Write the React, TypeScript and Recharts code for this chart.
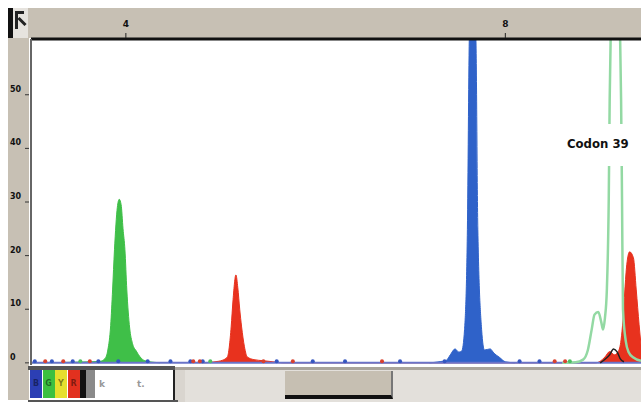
import React from 'react';
import { ComposedChart, Area, Line, Scatter, XAxis, YAxis, ReferenceLine } from 'recharts';

// trace points: [scan, signal]
type Pt = [number, number];

const GREEN: Pt[] = [
  [300, 0], [362, 0.2], [373, 0.3], [378, 0.8], [381, 2.4], [384, 7], [386, 13.6], [388, 21.1],
  [391, 29], [393, 30.5], [395, 29.5], [397, 25], [399, 21.1], [401, 13.6], [404, 6.5],
  [407, 3.6], [411, 2.2], [415, 1.1], [420, 0.4], [430, 0.1], [436, 0],
];

const RED: Pt[] = [
  [480, 0], [494, 0.2], [502, 0.5], [507, 1.1], [511, 6.7], [513, 11.8], [516, 16.4], [518, 14],
  [520, 10], [522, 6.7], [525, 3], [528, 1.1], [535, 0.6], [545, 0.4], [555, 0.2], [565, 0],
  [895, 0], [900, 0.3], [905, 1.1], [910, 2.1], [915, 1.5], [919, 2.1], [922, 4.3], [924, 8.0],
  [926, 13.6], [928, 18.3], [931, 20.7], [935, 19.6], [938, 13.6], [941, 7.1], [943, 3.4],
];

const BLUE: Pt[] = [
  [720, 0], [730, 0.2], [738, 0.5], [742, 1.5], [747, 2.6], [751, 2.0], [754, 2.2], [757, 6.2],
  [760, 24.9], [762, 60.4], [765, 75], [769, 60.4], [771, 24.9], [775, 6.2], [778, 2.4],
  [784, 2.6], [788, 1.8], [794, 1.0], [800, 0.2], [810, 0],
];

// light green trace, drawn as an outline only
const GREEN_OUTLINE: Pt[] = [
  [860, 0], [874, 0.1], [882, 0.6], [887, 2.4], [891, 6.2], [894, 9.0], [898, 9.5], [901, 7.7],
  [903, 6.2], [905, 8.4], [907, 13.6], [909, 30.5], [910, 49.2], [911, 60.4], [916, 82],
  [921, 60.4], [922, 49.2], [923, 30.5], [924, 10], [927, 4], [930, 2], [935, 1], [943, 0.4],
];

const BLACK: Pt[] = [[900, 0], [906, 0.8], [910, 1.5], [914, 2.6], [918, 2.0], [921, 0.8], [925, 0.2]];

// baseline noise blips
const BLUE_DOTS = [304, 322, 344, 371, 392, 423, 447, 468, 481, 559, 597, 631, 689, 736, 815, 836];
const RED_DOTS = [315, 334, 362, 471, 478, 545, 576, 670, 852, 863];
const GREEN_DOTS = [352, 489, 868];

const X_TICKS = [400, 800];
const X_TICK_LABELS = ['4', '8'];
const Y_TICKS = [0, 10, 20, 30, 40, 50];

const GRAY = '#c7c0b4';
const C_GREEN = '#3fbf48';
const C_RED = '#e8321e';
const C_BLUE = '#2f62c9';
const C_LIGHT = '#93d9a3';

const SERIES: Record<string, Pt[]> = {
  green: GREEN, red: RED, blue: BLUE, outline: GREEN_OUTLINE, black: BLACK,
};

function buildRows() {
  const xs = Array.from(new Set(Object.values(SERIES).flatMap((s) => s.map((p) => p[0])))).sort((a, b) => a - b);
  return xs.map((x) => {
    const row: Record<string, number> = { x };
    for (const [k, s] of Object.entries(SERIES)) {
      const p = s.find((q) => q[0] === x);
      if (p) row[k] = p[1];
    }
    return row;
  });
}

const rows = buildRows();
const dots = (xs: number[]) => xs.map((x) => ({ x, y: 0.3 }));

function TopTick(props: any) {
  const { x, payload, index } = props;
  return (
    <g>
      <text x={x} y={27} textAnchor="middle" fontSize={9} fontWeight="bold" fontFamily="DejaVu Sans" fill="#111">
        {X_TICK_LABELS[index] ?? payload.value}
      </text>
      <line x1={x} x2={x} y1={33} y2={38} stroke="#222" />
    </g>
  );
}

function LeftTick(props: any) {
  const { y, payload } = props;
  return (
    <g>
      <text x={10} y={y - 3} fontSize={8} fontWeight="bold" fontFamily="DejaVu Sans" fill="#111">
        {payload.value}
      </text>
      <line x1={25} x2={29} y1={y} y2={y} stroke="#333" />
    </g>
  );
}

const dotShape = (color: string) => (p: any) => <circle cx={p.cx} cy={p.cy} r={2} fill={color} />;

export default function App() {
  return (
    <div style={{ position: 'absolute', left: 0, top: 0, width: 641, height: 404, background: '#fff', overflow: 'hidden' }}>
      {/* window chrome */}
      <div style={{ position: 'absolute', left: 8, top: 8, width: 633, height: 30, background: GRAY }} />
      <div style={{ position: 'absolute', left: 8, top: 38, width: 21, height: 362, background: GRAY }} />
      <div style={{ position: 'absolute', left: 8, top: 8, width: 20, height: 30, background: '#e6e3de', borderLeft: '5px solid #111', boxSizing: 'border-box' }}>
        <div style={{ position: 'absolute', left: 2, top: 3, width: 9, height: 18, borderLeft: '3px solid #222', borderTop: '3px solid #222', boxSizing: 'border-box' }} />
        <div style={{ position: 'absolute', left: 4, top: 12, width: 10, height: 3, background: '#222', transform: 'rotate(45deg)' }} />
      </div>
      {/* bottom bar */}
      <div style={{ position: 'absolute', left: 28, top: 366, width: 147, height: 4, background: '#555' }} />
      <div style={{ position: 'absolute', left: 175, top: 367, width: 466, height: 3, background: '#a9a49c' }} />
      {[['B', '#2c3fb4'], ['G', '#3cc040'], ['Y', '#e6df2e'], ['R', '#e2311f']].map(([t, c], i) => (
        <div key={t} style={{ position: 'absolute', left: 30 + i * 12.5, top: 370, width: 12, height: 28, background: c, color: 'rgba(0,0,0,0.45)', fontSize: 8, fontFamily: 'DejaVu Sans', fontWeight: 'bold', textAlign: 'center', lineHeight: '28px' }}>{t}</div>
      ))}
      <div style={{ position: 'absolute', left: 80, top: 370, width: 6, height: 28, background: '#111' }} />
      <div style={{ position: 'absolute', left: 86, top: 370, width: 9, height: 28, background: '#8a8a8a' }} />
      <div style={{ position: 'absolute', left: 95, top: 370, width: 78, height: 32, background: '#fff', color: '#999', fontSize: 9, fontFamily: 'DejaVu Sans', fontWeight: 'bold' }}>
        <span style={{ position: 'absolute', left: 4, top: 9 }}>k</span>
        <span style={{ position: 'absolute', left: 42, top: 9 }}>t.</span>
      </div>
      <div style={{ position: 'absolute', left: 173, top: 370, width: 12, height: 32, background: '#d9d5cf', borderLeft: '2px solid #222', boxSizing: 'border-box' }} />
      <div style={{ position: 'absolute', left: 185, top: 370, width: 456, height: 32, background: '#e3e0db' }} />
      <div style={{ position: 'absolute', left: 285, top: 371, width: 108, height: 28, background: '#c6bfb2', borderBottom: '4px solid #111', borderRight: '2px solid #777', boxSizing: 'border-box' }} />
      <div style={{ position: 'absolute', left: 28, top: 400, width: 150, height: 2, background: '#555' }} />

      <div style={{ position: 'absolute', left: 0, top: 0 }}>
        <ComposedChart width={641} height={404} data={rows} margin={{ top: 9, right: 0, bottom: 39, left: 8 }}>
          <XAxis
            dataKey="x"
            type="number"
            orientation="top"
            height={30}
            domain={[300, 943]}
            ticks={X_TICKS}
            allowDataOverflow
            tick={<TopTick />}
            tickLine={false}
            axisLine={{ stroke: '#111', strokeWidth: 3 }}
          />
          <YAxis
            type="number"
            width={23}
            domain={[-0.4, 60.4]}
            ticks={Y_TICKS}
            allowDataOverflow
            tick={<LeftTick />}
            tickLine={false}
            axisLine={{ stroke: '#666', strokeWidth: 2 }}
          />
          <ReferenceLine y={0} stroke="#6a74c9" strokeWidth={2} />
          <Area dataKey="green" type="monotone" baseValue={0} stroke={C_GREEN} fill={C_GREEN} fillOpacity={1} connectNulls isAnimationActive={false} dot={false} activeDot={false} />
          <Area dataKey="red" type="monotone" baseValue={0} stroke={C_RED} fill={C_RED} fillOpacity={1} connectNulls isAnimationActive={false} dot={false} activeDot={false} />
          <Area dataKey="blue" type="monotone" baseValue={0} stroke={C_BLUE} fill={C_BLUE} fillOpacity={1} connectNulls isAnimationActive={false} dot={false} activeDot={false} />
          <Line dataKey="outline" type="monotone" stroke={C_LIGHT} strokeWidth={2.5} connectNulls isAnimationActive={false} dot={false} activeDot={false} />
          <Line dataKey="black" type="monotone" stroke="#222" strokeWidth={1.5} connectNulls isAnimationActive={false} dot={false} activeDot={false} />
          <Scatter data={dots(BLUE_DOTS)} dataKey="y" shape={dotShape('#3556c0')} isAnimationActive={false} />
          <Scatter data={dots(RED_DOTS)} dataKey="y" shape={dotShape('#d9402e')} isAnimationActive={false} />
          <Scatter data={dots(GREEN_DOTS)} dataKey="y" shape={dotShape('#4cc060')} isAnimationActive={false} />
        </ComposedChart>
      </div>

      <div style={{ position: 'absolute', left: 560, top: 124, width: 81, height: 42, background: '#fff', fontFamily: '"DejaVu Sans Condensed", "DejaVu Sans"', fontWeight: 'bold', fontSize: 13, lineHeight: '40px', paddingLeft: 7, boxSizing: 'border-box', color: '#111' }}>
        Codon 39
      </div>
    </div>
  );
}
